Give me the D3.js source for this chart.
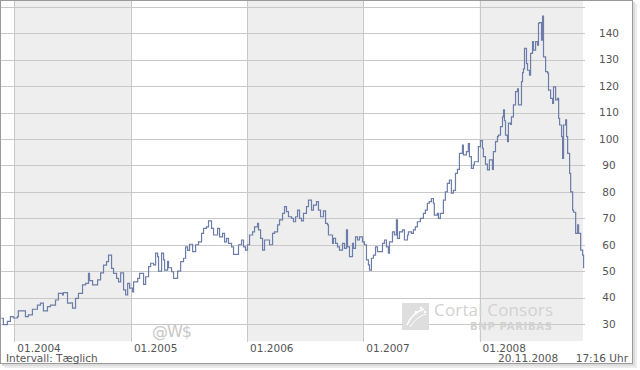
<!DOCTYPE html>
<html>
<head>
<meta charset="utf-8">
<script src="https://cdn.jsdelivr.net/npm/d3@7"></script>
<style>
  html, body { margin: 0; padding: 0; background: #fff; }
</style>
</head>
<body>
<div id="chart"></div>
<script>
const GRID  = '#c8c8c8';
const BAND  = '#eeeeee';
const LINE  = '#6b7da8';
const LABEL = '#555';
const WATER = '#d2d2d2';
const FONT  = '"DejaVu Sans", Verdana, sans-serif';

// x-axis: year starts, shaded years
const yearTicks   = [2004, 2005, 2006, 2007, 2008];
const yearLabels  = ['01.2004', '01.2005', '01.2006', '01.2007', '01.2008'];
const shadedYears = [2004, 2006, 2008];

// y-axis
const yGrid   = [30, 40, 50, 60, 70, 80, 90, 100, 110, 120, 130, 140, 150];
const yLabels = [30, 40, 50, 60, 70, 80, 90, 100, 110, 120, 130, 140];

// price series, time as decimal year
const times = [
  2003.888, 2003.905, 2003.940, 2003.966, 2003.991, 2004.026, 2004.034, 2004.069, 2004.095, 2004.120,
  2004.155, 2004.198, 2004.224, 2004.249, 2004.284, 2004.310, 2004.353, 2004.378, 2004.413, 2004.421,
  2004.456, 2004.482, 2004.499, 2004.525, 2004.550, 2004.585, 2004.611, 2004.636, 2004.645, 2004.671,
  2004.697, 2004.714, 2004.740, 2004.765, 2004.791, 2004.808, 2004.834, 2004.851, 2004.877, 2004.894,
  2004.912, 2004.937, 2004.955, 2004.972, 2004.989, 2005.015, 2005.023, 2005.058, 2005.075, 2005.109,
  2005.127, 2005.152, 2005.170, 2005.195, 2005.213, 2005.230, 2005.238, 2005.264, 2005.281, 2005.290,
  2005.316, 2005.324, 2005.350, 2005.367, 2005.385, 2005.402, 2005.428, 2005.453, 2005.471, 2005.488,
  2005.505, 2005.531, 2005.557, 2005.582, 2005.608, 2005.625, 2005.651, 2005.668, 2005.694, 2005.711,
  2005.729, 2005.746, 2005.763, 2005.789, 2005.806, 2005.823, 2005.840, 2005.866, 2005.883, 2005.909,
  2005.926, 2005.952, 2005.969, 2005.986, 2006.003, 2006.021, 2006.047, 2006.064, 2006.090, 2006.098,
  2006.116, 2006.133, 2006.150, 2006.176, 2006.193, 2006.219, 2006.236, 2006.262, 2006.279, 2006.305,
  2006.322, 2006.339, 2006.356, 2006.382, 2006.399, 2006.417, 2006.434, 2006.451, 2006.468, 2006.485,
  2006.511, 2006.528, 2006.554, 2006.571, 2006.597, 2006.614, 2006.632, 2006.657, 2006.675, 2006.692,
  2006.700, 2006.718, 2006.735, 2006.743, 2006.761, 2006.778, 2006.795, 2006.821, 2006.838, 2006.855,
  2006.864, 2006.881, 2006.907, 2006.915, 2006.933, 2006.950, 2006.967, 2006.993, 2007.010, 2007.027,
  2007.044, 2007.053, 2007.070, 2007.087, 2007.105, 2007.122, 2007.139, 2007.165, 2007.182, 2007.199,
  2007.216, 2007.225, 2007.251, 2007.268, 2007.285, 2007.294, 2007.311, 2007.337, 2007.354, 2007.380,
  2007.388, 2007.414, 2007.431, 2007.448, 2007.465, 2007.491, 2007.517, 2007.534, 2007.551, 2007.568,
  2007.586, 2007.603, 2007.611, 2007.637, 2007.646, 2007.663, 2007.689, 2007.706, 2007.723, 2007.741,
  2007.758, 2007.775, 2007.793, 2007.810, 2007.827, 2007.853, 2007.861, 2007.887, 2007.904, 2007.913,
  2007.930, 2007.947, 2007.956, 2007.982, 2007.990, 2008.008, 2008.025, 2008.033, 2008.051, 2008.068,
  2008.085, 2008.111, 2008.119, 2008.137, 2008.154, 2008.162, 2008.180, 2008.197, 2008.206, 2008.214,
  2008.223, 2008.240, 2008.248, 2008.266, 2008.274, 2008.291, 2008.309, 2008.326, 2008.334, 2008.343,
  2008.360, 2008.369, 2008.377, 2008.386, 2008.403, 2008.412, 2008.429, 2008.438, 2008.455, 2008.463,
  2008.481, 2008.498, 2008.506, 2008.515, 2008.532, 2008.541, 2008.549, 2008.567, 2008.584, 2008.592,
  2008.610, 2008.627, 2008.635, 2008.653, 2008.670, 2008.679, 2008.687, 2008.704, 2008.713, 2008.721,
  2008.739, 2008.747, 2008.756, 2008.773, 2008.782, 2008.799, 2008.807, 2008.825, 2008.842, 2008.850,
  2008.868, 2008.885, 2008.893
];
const prices = [
  32.2, 29.8, 31.0, 32.8, 32.3, 32.8, 35.0, 35.0, 32.8, 33.5,
  35.6, 37.2, 37.9, 35.0, 36.6, 37.2, 39.1, 41.6, 41.0, 41.9,
  37.9, 38.0, 36.0, 39.7, 41.6, 44.8, 45.4, 49.2, 46.4, 44.8,
  44.8, 46.7, 49.4, 52.3, 53.6, 56.1, 51.1, 49.2, 47.3, 46.0,
  49.4, 42.9, 41.0, 45.4, 43.6, 42.2, 46.0, 47.3, 49.2, 45.0,
  47.9, 51.7, 53.0, 52.4, 56.8, 55.5, 50.0, 56.8, 54.3, 50.4,
  53.7, 51.3, 49.8, 47.3, 47.3, 50.0, 53.6, 54.9, 59.2, 57.9,
  60.2, 57.4, 60.0, 61.1, 64.3, 66.2, 66.8, 69.0, 66.2, 63.7,
  63.7, 66.2, 63.0, 64.3, 61.1, 62.4, 60.5, 59.2, 56.4, 56.4,
  60.0, 61.8, 59.2, 58.0, 60.0, 63.7, 64.9, 66.8, 68.1, 65.6,
  62.4, 58.0, 61.8, 61.8, 60.0, 64.3, 64.9, 67.5, 69.4, 71.9,
  74.4, 72.5, 70.6, 70.0, 68.7, 70.6, 73.1, 70.0, 69.0, 71.9,
  74.4, 76.9, 73.1, 75.0, 76.3, 73.1, 70.6, 72.8, 68.1, 67.5,
  63.7, 63.7, 60.5, 62.4, 60.5, 59.2, 58.0, 60.5, 58.6, 65.6,
  59.2, 55.5, 60.5, 58.6, 63.0, 61.8, 63.0, 61.1, 60.0, 54.3,
  52.4, 50.4, 54.9, 56.1, 59.2, 57.4, 57.4, 60.5, 61.8, 59.2,
  56.8, 61.1, 64.9, 63.7, 69.4, 62.4, 64.9, 65.6, 61.8, 63.7,
  64.9, 64.3, 65.6, 66.8, 68.7, 70.0, 71.9, 73.1, 75.7, 76.3,
  77.5, 75.7, 71.2, 71.9, 70.0, 71.9, 76.9, 80.0, 83.2, 84.5,
  79.5, 80.6, 87.0, 88.5, 94.6, 97.7, 94.0, 95.2, 98.3, 93.3,
  88.9, 90.2, 91.4, 91.4, 97.1, 99.4, 96.5, 93.3, 90.5, 88.3,
  92.1, 88.5, 95.2, 99.0, 100.9, 101.5, 104.7, 108.4, 111.0, 106.9,
  101.5, 99.0, 106.0, 105.5, 108.4, 112.9, 117.9, 119.0, 112.9, 112.9,
  121.7, 125.1, 126.5, 134.3, 128.5, 126.0, 124.2, 132.4, 136.8, 133.6,
  136.8, 135.5, 143.8, 144.0, 137.4, 146.5, 131.1, 125.5, 124.9, 118.5,
  115.4, 113.5, 119.7, 114.8, 115.4, 107.8, 105.3, 100.9, 92.7, 105.3,
  107.2, 100.9, 94.6, 87.0, 80.0, 73.1, 72.3, 64.3, 67.5, 64.3,
  58.0, 56.1, 51.1
];

function toDate(t) {
  const y = Math.floor(t);
  const a = new Date(y, 0, 1), b = new Date(y + 1, 0, 1);
  return new Date(+a + (t - y) * (b - a));
}

const W = 640, H = 370;
const plot = { left: 1, right: 583, top: 1, bottom: 341 };

const svg = d3.select('#chart').append('svg')
  .attr('width', W)
  .attr('height', H);

const x = d3.scaleTime()
  .domain([new Date(2003, 10, 20), new Date(2008, 10, 21)])
  .range([plot.left, plot.right]);

const y = d3.scaleLinear()
  .domain([23.6, 152.2])
  .range([plot.bottom, plot.top]);

/* ── frame with soft shadow ──────────────────────────────── */
svg.append('rect').attr('x', 4).attr('y', 4).attr('width', 633).attr('height', 364).attr('fill', '#ececec');
svg.append('rect').attr('x', 2).attr('y', 2).attr('width', 633).attr('height', 364).attr('fill', '#dcdcdc');
svg.append('rect')
  .attr('x', 0.5).attr('y', 0.5)
  .attr('width', 632).attr('height', 363)
  .attr('fill', '#fff')
  .attr('stroke', '#9a9a9a');

/* ── shaded years ────────────────────────────────────────── */
svg.selectAll('.band')
  .data(shadedYears)
  .join('rect')
  .attr('class', 'band')
  .attr('x', d => x(new Date(d, 0, 1)))
  .attr('y', plot.top)
  .attr('width', d => Math.min(x(new Date(d + 1, 0, 1)), plot.right) - x(new Date(d, 0, 1)))
  .attr('height', plot.bottom - plot.top)
  .attr('fill', BAND);

/* ── grid ────────────────────────────────────────────────── */
svg.selectAll('.hgrid')
  .data(yGrid)
  .join('line')
  .attr('class', 'hgrid')
  .attr('x1', plot.left).attr('x2', plot.right + 2)
  .attr('y1', d => Math.round(y(d)) + 0.5).attr('y2', d => Math.round(y(d)) + 0.5)
  .attr('stroke', GRID);

svg.selectAll('.vgrid')
  .data(yearTicks)
  .join('line')
  .attr('class', 'vgrid')
  .attr('x1', d => Math.round(x(new Date(d, 0, 1))) + 0.5)
  .attr('x2', d => Math.round(x(new Date(d, 0, 1))) + 0.5)
  .attr('y1', plot.top).attr('y2', plot.bottom + 1)
  .attr('stroke', GRID);

/* ── watermarks ──────────────────────────────────────────── */
svg.append('text')
  .attr('x', 152).attr('y', 337)
  .attr('font-family', FONT).attr('font-size', 16)
  .attr('textLength', 40)
  .attr('fill', '#c8c8c8')
  .text('@W$');

const logo = svg.append('g').attr('transform', 'translate(402,303)');
logo.append('rect').attr('width', 27).attr('height', 27).attr('fill', '#dedede');
logo.append('path')
  .attr('d', 'M5,22 Q10,10 22,6')
  .attr('fill', 'none').attr('stroke', '#fff').attr('stroke-width', 1.5);
logo.append('path')
  .attr('d', 'M8,24 Q14,14 24,11')
  .attr('fill', 'none').attr('stroke', '#fff').attr('stroke-width', 1);
[[19, 5], [23, 9], [14, 9]].forEach(([cx, cy]) => {
  logo.append('circle').attr('cx', cx).attr('cy', cy).attr('r', 1.3).attr('fill', '#fff');
});

svg.append('text')
  .attr('x', 434).attr('y', 316)
  .attr('font-family', '"Open Sans", sans-serif').attr('font-size', 17)
  .attr('textLength', 119)
  .attr('fill', WATER)
  .text('Cortal Consors');

svg.append('text')
  .attr('x', 470).attr('y', 330)
  .attr('font-family', '"DejaVu Sans", sans-serif').attr('font-size', 10)
  .attr('font-weight', 'bold')
  .attr('textLength', 82)
  .attr('fill', WATER)
  .text('BNP PARIBAS');

/* ── price line ──────────────────────────────────────────── */
const data = times.map((t, i) => ({ date: toDate(t), value: prices[i] }));

svg.append('path')
  .datum(data)
  .attr('fill', 'none')
  .attr('stroke', LINE)
  .attr('stroke-width', 1.2)
  .attr('d', d3.line()
    .curve(d3.curveStepAfter)
    .x(d => x(d.date))
    .y(d => y(d.value)));

/* ── labels ──────────────────────────────────────────────── */
svg.selectAll('.ylab')
  .data(yLabels)
  .join('text')
  .attr('class', 'ylab')
  .attr('x', 609)
  .attr('y', d => y(d))
  .attr('dy', '0.36em')
  .attr('text-anchor', 'middle')
  .attr('font-family', FONT).attr('font-size', 10.5)
  .attr('fill', LABEL)
  .text(d => d);

svg.selectAll('.xlab')
  .data(yearTicks)
  .join('text')
  .attr('class', 'xlab')
  .attr('x', d => x(new Date(d, 0, 1)) + 3)
  .attr('y', 352)
  .attr('font-family', FONT).attr('font-size', 10.5)
  .attr('fill', LABEL)
  .text((d, i) => yearLabels[i]);

svg.append('text')
  .attr('x', 6).attr('y', 362)
  .attr('font-family', FONT).attr('font-size', 10.5)
  .attr('fill', LABEL)
  .text('Intervall: Tæglich');

svg.append('text')
  .attr('x', 498).attr('y', 362)
  .attr('font-family', FONT).attr('font-size', 10.5)
  .attr('fill', LABEL)
  .text('20.11.2008');

svg.append('text')
  .attr('x', 628).attr('y', 362)
  .attr('text-anchor', 'end')
  .attr('font-family', FONT).attr('font-size', 10.5)
  .attr('fill', LABEL)
  .text('17:16 Uhr');
</script>
</body>
</html>
